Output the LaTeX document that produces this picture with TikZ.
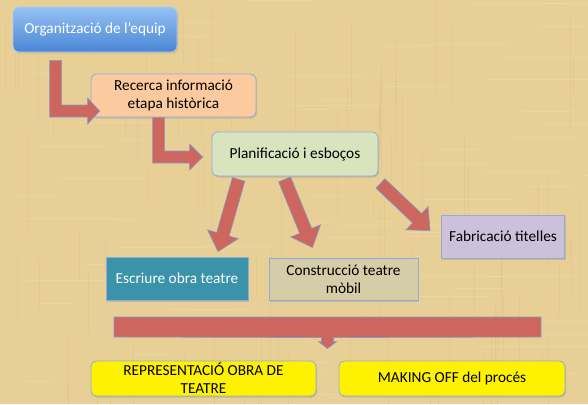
\documentclass[tikz,border=0pt]{standalone}
\usepackage{fontspec}
\setmainfont{Carlito}
\usetikzlibrary{calc,shadows}
\definecolor{bg}{HTML}{E8CF96}
\definecolor{bgdark}{HTML}{D9B978}
\definecolor{bglight}{HTML}{F3E2B4}
\definecolor{arrred}{HTML}{CD665F}
\definecolor{arrline}{HTML}{7D9DD2}
\definecolor{boxline}{HTML}{8BAEDD}
\definecolor{peach}{HTML}{FCCA9F}
\definecolor{lgreen}{HTML}{D7E4BD}
\definecolor{teal}{HTML}{3A93A9}
\definecolor{tan}{HTML}{D5CCA8}
\definecolor{lav}{HTML}{CCC0DA}
\definecolor{blueT}{HTML}{95C2F2}
\definecolor{blueB}{HTML}{4A85D6}
\newcommand\blockarr[2]{%
  \coordinate (#1h) at ($(#2)!18pt!(#1)$);
  \draw[arrowsty] ($(#1)!6.5pt!90:(#2)$) -- ($(#1h)!6.5pt!-90:(#1)$) -- ($(#1h)!16pt!-90:(#1)$) -- (#2)
    -- ($(#1h)!16pt!90:(#1)$) -- ($(#1h)!6.5pt!90:(#1)$) -- ($(#1)!6.5pt!-90:(#2)$) -- cycle;}
\begin{document}
\begin{tikzpicture}[x=1pt,y=-1pt,
  txt/.style={font=\fontsize{15.3}{18}\selectfont, align=center, text=black},
  shd/.style={drop shadow={opacity=0.3, shadow xshift=1pt, shadow yshift=-1.5pt}},
  rbox/.style={txt, shd, draw=boxline, line width=0.8pt, rounded corners=6pt, inner sep=1pt},
  sbox/.style={txt, shd, draw=boxline, line width=0.8pt, inner sep=1pt},
  arrowsty/.style={fill=arrred, draw=arrline, line width=0.6pt, line join=miter}]
\fill[bg] (0,0) rectangle (588,404);
\useasboundingbox (0,0) rectangle (588,404);
% parchment texture
\pgfmathsetseed{7}
\foreach \i in {1,...,90}{
  \pgfmathsetmacro{\xx}{random(0,588)}
  \pgfmathsetmacro{\yy}{random(0,404)}
  \pgfmathsetmacro{\ll}{random(20,120)}
  \draw[bgdark, opacity=0.25, line width=0.6pt] (\xx,\yy) -- ++(0,\ll);
}
\foreach \i in {1,...,90}{
  \pgfmathsetmacro{\xx}{random(0,588)}
  \pgfmathsetmacro{\yy}{random(0,404)}
  \pgfmathsetmacro{\ll}{random(20,120)}
  \draw[bglight, opacity=0.35, line width=0.6pt] (\xx,\yy) -- ++(\ll,0);
}

\node[rbox, draw=blueT!80!white, top color=blueT, bottom color=blueB, text=white,
  minimum width=164pt, minimum height=45pt] (org) at (95,29.5) {Organització de l’equip};
\node[rbox, fill=peach, minimum width=165pt, minimum height=43pt] (rec) at (173.5,95.5)
  {Recerca informació\\etapa històrica};
\node[rbox, fill=lgreen, minimum width=166pt, minimum height=44pt] (plan) at (295,154)
  {Planificació i esboços};
\node[sbox, fill=teal, text=white, minimum width=142pt, minimum height=43pt] (esc) at (177,278.5)
  {Escriure obra teatre};
\node[sbox, fill=tan, minimum width=149pt, minimum height=42pt] (con) at (343.5,279)
  {Construcció teatre\\mòbil};
\node[sbox, fill=lav, minimum width=123pt, minimum height=43pt] (fab) at (503,236.5)
  {Fabricació titelles};
\node[rbox, fill=yellow, minimum width=225pt, minimum height=35pt, inner sep=0pt] (rep) at (203.5,378.5)
  {REPRESENTACIÓ OBRA DE\\TEATRE};
\node[rbox, fill=yellow, minimum width=226pt, minimum height=35pt] (mak) at (452,378.5)
  {MAKING OFF del procés};

% elbow arrows
\coordinate (e1s) at ($(org.south west)+(43,8)$);
\coordinate (e1t) at ($(rec.west)+(9,15.5)$);
\draw[arrowsty] ($(e1s)+(-6,0)$) -- ($(e1s)+(6,0)$) |- ($(e1t)+(-12,-6)$) -- ($(e1t)+(-12,-13)$)
  -- (e1t) -- ($(e1t)+(-12,13)$) -- ($(e1t)+(-12,6)$) -| ($(e1s)+(-6,0)$) -- cycle;
\coordinate (e2s) at ($(rec.south west)+(68,0)$);
\coordinate (e2t) at ($(plan.west)+(-9,3)$);
\draw[arrowsty] ($(e2s)+(-6,0)$) -- ($(e2s)+(6,0)$) |- ($(e2t)+(-13,-6)$) -- ($(e2t)+(-13,-13)$)
  -- (e2t) -- ($(e2t)+(-13,13)$) -- ($(e2t)+(-13,6)$) -| ($(e2s)+(-6,0)$) -- cycle;

% diagonal arrows
\coordinate (d1) at ($(plan.south west)+(27,3)$);
\coordinate (d1t) at ($(esc.north)+(41,-5)$);
\blockarr{d1}{d1t}
\coordinate (d2) at ($(plan.south west)+(73,3)$);
\coordinate (d2t) at ($(con.north)+(-31,-10)$);
\blockarr{d2}{d2t}
\coordinate (d3) at ($(plan.south east)+(2,7)$);
\coordinate (d3t) at ($(fab.north west)+(-11,16)$);
\blockarr{d3}{d3t}

% bar
\coordinate (bt) at ($(rep.north east)!0.5!(mak.north west)+(0,-12)$);
\draw[arrowsty] (114,317) -- (541,317) -- (541,337) -- ($(bt)+(6,-11)$) -- ($(bt)+(6,-7)$)
  -- ($(bt)+(9,-7)$) -- (bt) -- ($(bt)+(-9,-7)$) -- ($(bt)+(-6,-7)$) -- ($(bt)+(-6,-11)$)
  -- (114,337) -- cycle;
\end{tikzpicture}
\end{document}
